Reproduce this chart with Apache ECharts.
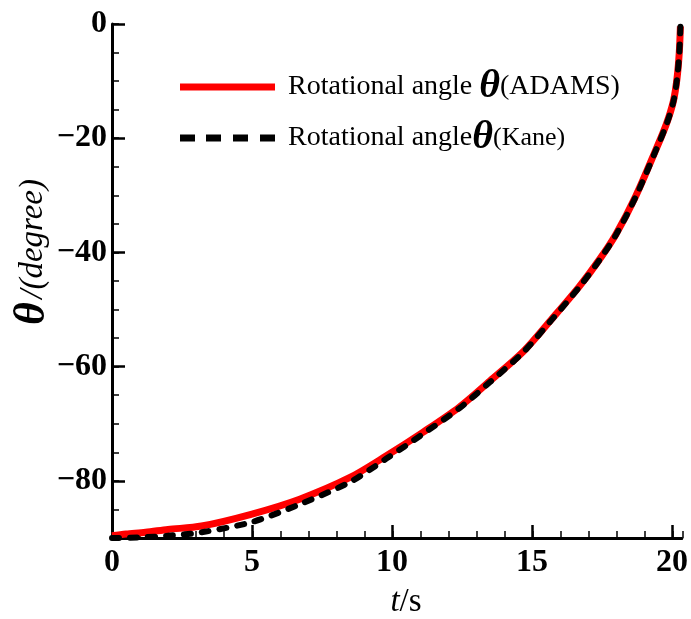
<!DOCTYPE html>
<html>
<head>
<meta charset="utf-8">
<script src="https://cdn.jsdelivr.net/npm/echarts@6/dist/echarts.min.js"></script>
<style>html,body{margin:0;padding:0;background:#fff}#c{width:691px;height:619px}</style>
</head>
<body>
<div id="c"></div>
<script>
// Data
var tAdams = [0, 0.5, 1.2, 2.0, 3.2, 5.0, 6.7, 8.5, 9.8, 11.1, 12.4, 13.5, 14.7, 15.7, 16.7, 17.4, 18.0, 18.7, 19.4, 19.8, 20.05, 20.18, 20.26, 20.3];
var thetaAdams = [-89.6, -89.3, -89.0, -88.5, -87.9, -85.8, -83.2, -79.4, -75.6, -71.5, -67.1, -62.5, -57.3, -51.7, -45.9, -41.3, -36.8, -30.2, -22.3, -17.5, -13.5, -9.5, -5.0, -0.4];
var tKane = [0, 1.0, 2.0, 3.2, 5.0, 6.7, 8.5, 9.8, 11.1, 12.4, 13.5, 14.7, 15.7, 16.7, 17.4, 18.0, 18.7, 19.4, 19.8, 20.05, 20.18, 20.26, 20.3];
var thetaKane = [-90.0, -89.9, -89.6, -89.0, -87.2, -84.1, -80.2, -76.1, -71.8, -67.3, -62.7, -57.4, -51.8, -46.0, -41.4, -36.9, -30.3, -22.4, -17.6, -13.6, -9.6, -5.1, -0.5];
var xTicks = [0, 5, 10, 15, 20];
var yTicks = [-80, -60, -40, -20, 0];
var xMin = 0, xMax = 20.35, yMin = -90, yMax = 0;

function pairs(xs, ys) { return xs.map(function (x, i) { return [x, ys[i]]; }); }
function fmt(v) { return String(v).replace('-', '\u2212'); }

var serif = 'Liberation Serif';
var chart = echarts.init(document.getElementById('c'), null, { renderer: 'canvas' });
var labelStyle = { fontFamily: serif, fontWeight: 'bold', fontSize: 32, color: '#000' };
var gridBox = { left: 112, right: 8, top: 24, bottom: 81, containLabel: false };
var solidIcon = 'path://M0,0 H95 V7 H0 Z';
var dashIcon = 'path://M0,0 H15 V7 H0 Z M26,0 H41 V7 H26 Z M53,0 H68 V7 H53 Z M80,0 H95 V7 H80 Z';

chart.setOption({
  animation: false,
  backgroundColor: '#fff',
  grid: [Object.assign({}, gridBox), Object.assign({}, gridBox)],
  xAxis: [{
    type: 'value', gridIndex: 0, min: xMin, max: xMax, position: 'bottom',
    axisLine: { show: true, onZero: false, lineStyle: { color: '#000', width: 3 } },
    axisTick: { show: true, inside: true, length: 13, lineStyle: { color: '#000', width: 2.5 }, customValues: xTicks },
    axisLabel: Object.assign({ margin: 9, customValues: xTicks, formatter: fmt }, labelStyle),
    splitLine: { show: false }
  }, {
    type: 'value', gridIndex: 1, min: xMin, max: xMax, interval: 1, position: 'bottom',
    axisLine: { show: false, onZero: false },
    axisTick: { show: true, inside: true, length: 7, lineStyle: { color: '#000', width: 1.5 } },
    axisLabel: { show: false },
    splitLine: { show: false }
  }],
  yAxis: [{
    type: 'value', gridIndex: 0, min: yMin, max: yMax, position: 'left',
    axisLine: { show: true, onZero: false, lineStyle: { color: '#000', width: 3 } },
    axisTick: { show: true, inside: true, length: 13, lineStyle: { color: '#000', width: 2.5 }, customValues: yTicks },
    axisLabel: Object.assign({ margin: 5, customValues: yTicks, formatter: fmt }, labelStyle),
    splitLine: { show: false }
  }, {
    type: 'value', gridIndex: 1, min: yMin, max: yMax, interval: 5, position: 'left',
    axisLine: { show: false, onZero: false },
    axisTick: { show: true, inside: true, length: 7, lineStyle: { color: '#000', width: 1.5 } },
    axisLabel: { show: false },
    splitLine: { show: false }
  }],
  legend: {
    orient: 'vertical', left: 180, top: 67, padding: 0,
    itemWidth: 95, itemHeight: 7, itemGap: 11,
    data: [{ name: 'ADAMS', icon: solidIcon }, { name: 'Kane', icon: dashIcon }],
    formatter: function (name) {
      return name === 'ADAMS'
        ? '{a|Rotational angle }{t|\u03b8}{b|(ADAMS)}'
        : '{a|Rotational angle}{t|\u03b8}{c|(Kane)}';
    },
    textStyle: {
      padding: [0, 0, 0, 8],
      rich: {
        a: { fontFamily: serif, fontSize: 28, color: '#000', lineHeight: 42 },
        t: { fontFamily: serif, fontSize: 40, fontWeight: 'bold', fontStyle: 'italic', color: '#000', lineHeight: 42 },
        b: { fontFamily: serif, fontSize: 28, color: '#000', lineHeight: 42 },
        c: { fontFamily: serif, fontSize: 26, color: '#000', lineHeight: 42 }
      }
    }
  },
  graphic: [{
    type: 'text', x: 33, y: 252, rotation: Math.PI / 2,
    style: {
      text: '{t|\u03b8} {d|/(degree)}', align: 'center', verticalAlign: 'middle',
      rich: {
        t: { fontFamily: serif, fontSize: 44, fontWeight: 'bold', fontStyle: 'italic', fill: '#000' },
        d: { fontFamily: serif, fontSize: 33, fontStyle: 'italic', fill: '#000' }
      }
    }
  }, {
    type: 'text', x: 406, y: 602,
    style: {
      text: '{t|t}{s|/s}', align: 'center', verticalAlign: 'middle',
      rich: {
        t: { fontFamily: serif, fontSize: 33, fontStyle: 'italic', fill: '#000' },
        s: { fontFamily: serif, fontSize: 33, fill: '#000' }
      }
    }
  }],
  series: [{
    name: 'ADAMS', type: 'line', xAxisIndex: 0, yAxisIndex: 0,
    data: pairs(tAdams, thetaAdams), symbol: 'none', smooth: 0.3,
    lineStyle: { color: '#ff0000', width: 7 }, itemStyle: { color: '#ff0000' }, z: 2
  }, {
    name: 'Kane', type: 'line', xAxisIndex: 0, yAxisIndex: 0,
    data: pairs(tKane, thetaKane), symbol: 'none', smooth: 0.3,
    lineStyle: { color: '#000', width: 6, type: [7, 11], cap: 'round' }, itemStyle: { color: '#000' }, z: 3
  }]
});
</script>
</body>
</html>
